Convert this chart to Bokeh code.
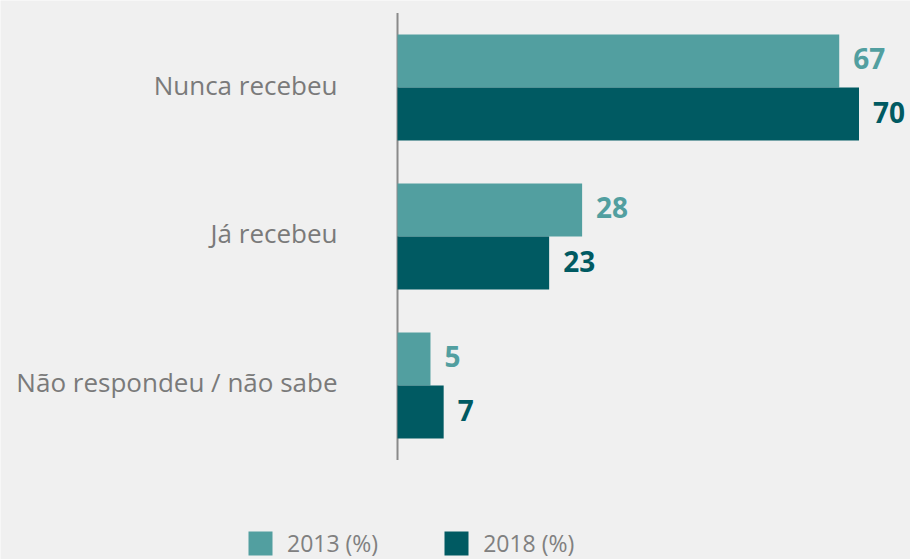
from bokeh.plotting import figure
from bokeh.models import Range1d, ColumnDataSource, Legend, LegendItem
from bokeh.transform import dodge
from bokeh.core.properties import value
from bokeh.embed import file_html
from bokeh.resources import INLINE

categories = ["Nunca recebeu", "Já recebeu", "Não respondeu / não sabe"]
series_2013 = [67, 28, 5]
series_2018 = [70, 23, 7]
legend_labels = ["2013 (%)", "2018 (%)"]

C13 = "#529fa0"
C18 = "#005a62"
BG = "#f0f0f0"
GRAY = "#7a7a7a"
FONT = "Open Sans"

n = len(categories)
idx = list(range(n))
src = ColumnDataSource(dict(
    idx=idx, cat=categories, zero=[0] * n, v13=series_2013, v18=series_2018,
    t13=[str(v) for v in series_2013], t18=[str(v) for v in series_2018],
))

p = figure(width=910, height=559, output_backend="svg", toolbar_location=None,
           x_range=Range1d(-60.22, 77.81), y_range=Range1d(3.168, -0.584),
           min_border=0)
p.background_fill_color = BG
p.border_fill_color = BG
p.outline_line_color = None
p.grid.visible = False
p.axis.visible = False

# baseline (category axis line), spanning the category band
p.segment(x0=0, x1=0, y0=-0.5, y1=n - 0.5, line_color="#8a8a8a", line_width=2)

# category labels
p.text(x="zero", y="idx", text="cat", source=src, x_offset=-60, y_offset=-3,
       text_align="right", text_baseline="middle",
       text_font=value(FONT), text_font_size="26px", text_color=GRAY)

h = 0.356
r13 = p.hbar(y=dodge("idx", -h / 2, range=p.y_range), right="v13", left=0, height=h,
             source=src, fill_color=C13, line_color=None)
r18 = p.hbar(y=dodge("idx", h / 2, range=p.y_range), right="v18", left=0, height=h,
             source=src, fill_color=C18, line_color=None)

p.text(x="v13", y=dodge("idx", -h / 2, range=p.y_range), text="t13", source=src,
       x_offset=14, y_offset=-2, text_baseline="middle", text_align="left",
       text_font=value(FONT), text_font_style="bold", text_font_size="28px", text_color=C13)
p.text(x="v18", y=dodge("idx", h / 2, range=p.y_range), text="t18", source=src,
       x_offset=14, y_offset=-2, text_baseline="middle", text_align="left",
       text_font=value(FONT), text_font_style="bold", text_font_size="28px", text_color=C18)

legend = Legend(items=[LegendItem(label=legend_labels[0], renderers=[r13]),
                       LegendItem(label=legend_labels[1], renderers=[r18])],
                orientation="horizontal", location=(245, 0),
                glyph_width=30, glyph_height=30, label_standoff=12, spacing=63,
                label_text_font=FONT, label_text_font_size="23px", label_text_color="#808080",
                background_fill_alpha=0, border_line_color=None, padding=0, margin=0)
p.add_layout(legend)

open("out.html", "w").write(file_html(p, INLINE))
